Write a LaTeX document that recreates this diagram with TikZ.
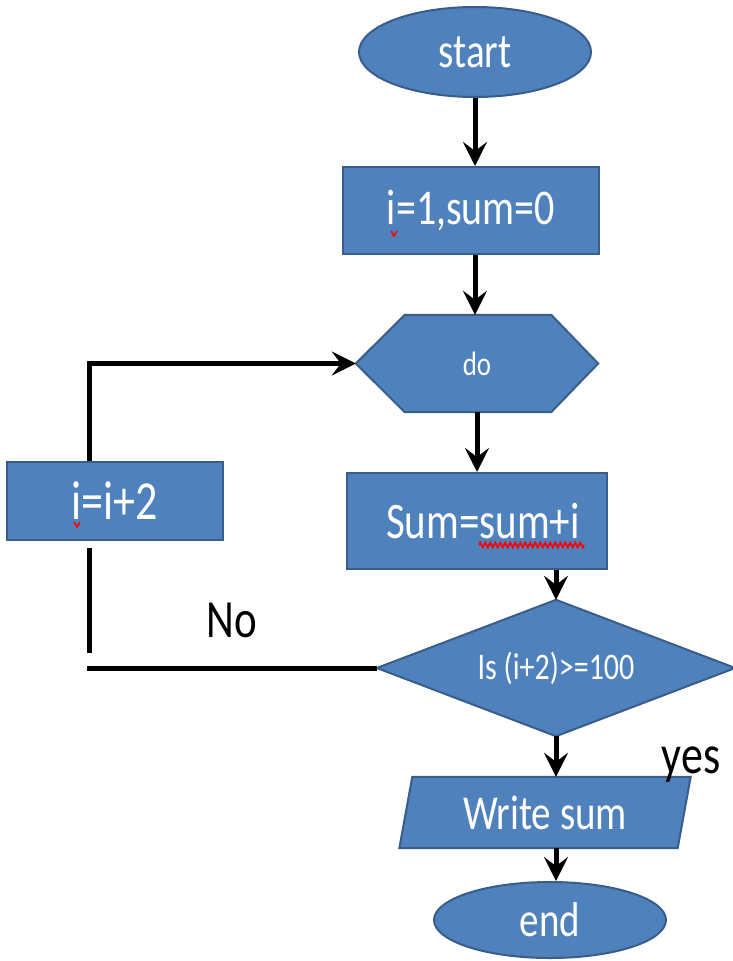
\documentclass[tikz,border=0pt]{standalone}
\usepackage{graphicx}
\usepackage{fontspec}
\setmainfont{Carlito}
\usetikzlibrary{arrows.meta,shapes.geometric,decorations.pathmorphing,calc,backgrounds}
\definecolor{boxblue}{HTML}{4F81BD}
\definecolor{boxedge}{HTML}{385D8A}
% text at a given size, a little taller than wide
\newcommand{\flowtxt}[2]{\fontsize{#1pt}{#1pt}\selectfont\scalebox{1}[1.25]{#2}}
\tikzset{
  x=1pt, y=-1pt,
  shapebox/.style={draw=boxedge, fill=boxblue, line width=2pt, text=white, inner sep=0pt},
  holder/.style={text=white, inner sep=0pt},
  outline/.style={draw=boxedge, fill=boxblue, line width=2pt, line join=miter},
  flowline/.style={line width=5pt, black},
  flowarrow/.style={flowline, -{Stealth[length=24pt,width=24pt,inset=9pt]}},
  spellmark/.style={red, line width=1.6pt},
}
\begin{document}
\begin{tikzpicture}
\useasboundingbox (0,0) rectangle (733,961);

% terminals and process boxes
\node[shapebox, ellipse, minimum width=232pt, minimum height=90pt] (start) at (475,52) {\flowtxt{39}{start}};
\node[shapebox, rectangle, minimum width=256pt, minimum height=87pt] (init) at (471,210.5) {\flowtxt{40}{i=1,sum=0}};
\node[holder, minimum width=242pt, minimum height=97pt] (do) at (477,363.5) {\flowtxt{27}{do}};
\node[shapebox, rectangle, minimum width=260pt, minimum height=96pt] (sum) at (477,521) {\hspace*{12pt}\flowtxt{41}{Sum=sum+i}};
\node[shapebox, rectangle, minimum width=216pt, minimum height=78pt] (inc) at (115,501) {\flowtxt{44}{i=i+2}};
\node[holder, minimum width=358pt, minimum height=136pt] (test) at (556,668) {\flowtxt{30}{Is (i+2)>=100}};
\node[holder, minimum width=278pt, minimum height=71pt] (write) at (545,812.5) {\flowtxt{39}{Write sum}};
\node[shapebox, ellipse, minimum width=232pt, minimum height=76pt] (end) at (550,920) {\flowtxt{39}{end}};

% hexagon, decision diamond and output parallelogram behind their texts
\begin{scope}[on background layer]
  \path[outline] (do.west) -- ($(do.north west)+(49,0)$) -- ($(do.north east)+(-47,0)$)
    -- (do.east) -- ($(do.south east)+(-47,0)$) -- ($(do.south west)+(49,0)$) -- cycle;
  \path[outline] (test.west) -- (test.north) -- (test.east) -- (test.south) -- cycle;
  \path[outline] ($(write.north west)+(6.5,0)$) -- ($(write.north east)+(6.5,0)$)
    -- ($(write.south east)+(-6.5,0)$) -- ($(write.south west)+(-6.5,0)$) -- cycle;
\end{scope}

% spelling marks under the loop variable
\draw[spellmark] (391,231) -- (394,236) -- (397,231);
\draw[spellmark] (74,522) -- (77,527) -- (80,522);
\draw[spellmark, decorate, decoration={zigzag, segment length=5pt, amplitude=2.5pt}] (479,545) -- (584,545);

% main flow
\draw[flowarrow] (start.south) -- (start.south |- init.north);
\draw[flowarrow] (init.south -| start.south) -- (start.south |- do.north);
\draw[flowarrow] (do.south) -- (sum.north);
\draw[flowarrow] (sum.south -| test.north) -- (test.north);
\draw[flowarrow] (test.south) -- (test.south |- write.north);
\draw[flowarrow] (write.south -| test.south) -- (test.south |- end.north);

% loop back
\coordinate (noturn) at (89,668);
\draw[flowarrow] (inc.north -| noturn) |- (do.west);
\draw[flowline] (test.west) -- ([xshift=-2pt]noturn);
\draw[flowline] ([yshift=-7pt]inc.south -| noturn) -- ([yshift=15pt]noturn);

% branch labels
\node[anchor=base, inner sep=0pt] (no) at (232,637) {\flowtxt{43}{No}};
\node[anchor=base, inner sep=0pt] (yes) at (691,773) {\flowtxt{44}{yes}};
\end{tikzpicture}
\end{document}
